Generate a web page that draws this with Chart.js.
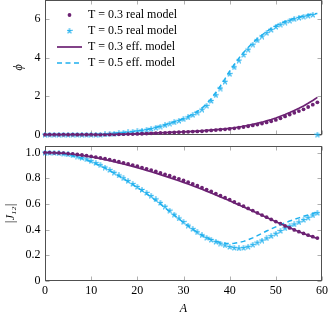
<!DOCTYPE html>
<html><head><meta charset="utf-8">
<script src="https://cdn.jsdelivr.net/npm/chart.js@4/dist/chart.umd.min.js"></script>
<style>
html,body{margin:0;padding:0;background:#fff;}
#wrap{position:relative;width:333px;height:317px;overflow:hidden;background:#fff}
#c1{position:absolute;left:0;top:0;width:333px;height:140px}
#c2{position:absolute;left:0;top:140px;width:333px;height:177px}
</style></head><body>
<div id="wrap"><canvas id="c1" width="333" height="140"></canvas><canvas id="c2" width="333" height="177"></canvas></div>
<script>
// ---- data ----
const A = [0,1,2,3,4,5,6,7,8,9,10,11,12,13,14,15,16,17,18,19,20,21,22,23,24,25,26,27,28,29,30,31,32,33,34,35,36,37,38,39,40,41,42,43,44,45,46,47,48,49,50,51,52,53,54,55,56,57,58,59];
const seriesLabels = ['T = 0.3 real model','T = 0.5 real model','T = 0.3 eff. model','T = 0.5 eff. model'];

const phiReal03 = [0,0,0,0,0,0,0,0,0,0,0,0,0,0.005,0.01,0.015,0.02,0.025,0.03,0.035,0.04,0.05,0.06,0.07,0.08,0.09,0.10,0.11,0.12,0.13,0.14,0.15,0.16,0.17,0.18,0.20,0.22,0.24,0.26,0.28,0.30,0.33,0.36,0.40,0.44,0.48,0.53,0.58,0.64,0.70,0.77,0.85,0.95,1.05,1.14,1.23,1.32,1.44,1.56,1.68];
const phiReal05 = [0,0,0,0,0,0,0,0,0,0,0,0,0,0.02,0.04,0.06,0.08,0.10,0.12,0.15,0.18,0.21,0.25,0.30,0.36,0.42,0.49,0.57,0.64,0.72,0.80,0.90,1.02,1.15,1.30,1.50,1.75,2.05,2.40,2.75,3.15,3.50,3.85,4.15,4.42,4.68,4.90,5.10,5.28,5.45,5.60,5.72,5.83,5.92,6.00,6.07,6.13,6.18,6.23,0];
const phiEff03 = [0,0,0,0,0,0,0,0,0,0,0,0,0.005,0.01,0.015,0.02,0.025,0.03,0.035,0.04,0.05,0.06,0.07,0.08,0.09,0.10,0.11,0.12,0.13,0.14,0.15,0.16,0.17,0.185,0.20,0.22,0.24,0.26,0.28,0.30,0.33,0.36,0.40,0.44,0.49,0.54,0.59,0.65,0.72,0.79,0.87,0.96,1.05,1.15,1.26,1.37,1.49,1.63,1.78,1.94];
const phiEff05 = [0,0,0,0,0,0,0,0,0,0,0,0.01,0.02,0.03,0.05,0.07,0.09,0.11,0.13,0.16,0.19,0.23,0.27,0.32,0.38,0.45,0.52,0.60,0.68,0.76,0.84,0.95,1.07,1.21,1.38,1.60,1.87,2.19,2.54,2.91,3.30,3.65,3.98,4.27,4.53,4.78,4.99,5.18,5.36,5.52,5.66,5.78,5.88,5.97,6.05,6.12,6.18,6.23,6.27,6.30];

const jReal03 = [1.000,1.000,0.999,0.998,0.996,0.993,0.990,0.986,0.982,0.977,0.972,0.966,0.960,0.953,0.946,0.938,0.930,0.921,0.912,0.903,0.894,0.884,0.874,0.864,0.853,0.842,0.831,0.820,0.808,0.796,0.783,0.770,0.756,0.742,0.727,0.712,0.697,0.681,0.665,0.649,0.633,0.616,0.599,0.582,0.565,0.548,0.530,0.513,0.496,0.479,0.462,0.445,0.428,0.412,0.397,0.383,0.369,0.356,0.344,0.333];
const jReal05 = [1.000,0.999,0.998,0.995,0.991,0.986,0.979,0.970,0.960,0.948,0.934,0.919,0.902,0.884,0.864,0.843,0.822,0.800,0.778,0.755,0.732,0.709,0.686,0.661,0.635,0.608,0.578,0.547,0.516,0.486,0.458,0.430,0.403,0.378,0.355,0.335,0.318,0.304,0.290,0.276,0.264,0.256,0.253,0.256,0.265,0.280,0.297,0.314,0.331,0.348,0.367,0.388,0.409,0.425,0.440,0.456,0.474,0.492,0.510,0.528];
const jEff03 = [1.000,1.000,0.999,0.997,0.995,0.992,0.988,0.984,0.979,0.973,0.967,0.961,0.954,0.946,0.938,0.930,0.921,0.912,0.903,0.893,0.883,0.873,0.862,0.851,0.840,0.829,0.817,0.805,0.793,0.781,0.768,0.755,0.742,0.728,0.714,0.700,0.685,0.670,0.655,0.640,0.624,0.608,0.592,0.576,0.560,0.544,0.527,0.511,0.494,0.478,0.461,0.445,0.429,0.413,0.398,0.383,0.369,0.355,0.342,0.330];
const jEff05 = [1.000,0.999,0.997,0.994,0.989,0.983,0.975,0.966,0.955,0.943,0.929,0.914,0.897,0.879,0.860,0.840,0.819,0.797,0.775,0.752,0.728,0.704,0.679,0.653,0.626,0.598,0.569,0.540,0.511,0.483,0.455,0.428,0.402,0.378,0.356,0.337,0.321,0.308,0.298,0.292,0.290,0.292,0.298,0.307,0.320,0.335,0.352,0.370,0.388,0.405,0.421,0.437,0.452,0.466,0.479,0.491,0.503,0.514,0.525,0.535];

const xTicks = [0,10,20,30,40,50,60];
const xTickLabels = ['0','10','20','30','40','50','60'];
const yTicksTop = [0,2,4,6];
const yTickLabelsTop = ['0','2','4','6'];
const yTicksBottom = [0,0.2,0.4,0.6,0.8,1.0];
const yTickLabelsBottom = ['0','0.2','0.4','0.6','0.8','1.0'];

// ---- styles ----
const PURPLE = '#6c2273';
const BLUE = '#1fb0ee';
const FONT = "'Liberation Serif','DejaVu Serif',serif";
Chart.defaults.font.family = FONT;
Chart.defaults.font.size = 12;
Chart.defaults.color = '#000';

function mkCanvas(w,h){const c=document.createElement('canvas');c.width=w;c.height=h;return c;}
function starImg(color){
  const c=mkCanvas(6,6), g=c.getContext('2d');
  g.strokeStyle=color; g.lineWidth=1.2; g.lineCap='round'; g.beginPath();
  for(let k=0;k<5;k++){const a=-Math.PI/2+k*2*Math.PI/5; g.moveTo(3,3); g.lineTo(3+2.4*Math.cos(a),3+2.4*Math.sin(a));}
  g.stroke(); return c;
}
const STAR = starImg(BLUE);
function iconDot(){const c=mkCanvas(25,10),g=c.getContext('2d');g.fillStyle=PURPLE;g.beginPath();g.arc(12.5,5,1.9,0,Math.PI*2);g.fill();return c;}
function iconStar(){const c=mkCanvas(25,10),g=c.getContext('2d');g.drawImage(STAR,9.5,2);return c;}
function iconLine(color,dash,w){const c=mkCanvas(25,10),g=c.getContext('2d');g.strokeStyle=color;g.lineWidth=w;g.setLineDash(dash);g.beginPath();g.moveTo(0,5);g.lineTo(25,5);g.stroke();return c;}
const legendIcons = [iconDot(), iconStar(), iconLine(PURPLE,[],1.7), iconLine(BLUE,[5,3.5],1.5)];

function pts(arr){return A.map((a,i)=>({x:a,y:arr[i]}));}
function datasets(r03,r05,e03,e05){
  return [
    {label:seriesLabels[0],data:pts(r03),showLine:false,pointStyle:'circle',pointRadius:1.9,pointBackgroundColor:PURPLE,pointBorderWidth:0,borderColor:PURPLE,backgroundColor:PURPLE,order:1,clip:false},
    {label:seriesLabels[1],data:pts(r05),showLine:false,pointStyle:STAR,pointRadius:3,pointBorderWidth:0,borderColor:BLUE,backgroundColor:BLUE,order:1,clip:false},
    {label:seriesLabels[2],data:pts(e03),borderColor:PURPLE,borderWidth:1.7,pointRadius:0,fill:false,order:0,clip:false},
    {label:seriesLabels[3],data:pts(e05),borderColor:BLUE,borderWidth:1.5,borderDash:[5,3.5],pointRadius:0,fill:false,order:0,clip:false}
  ];
}

const boxPlugin = {
  id:'boxTicks',
  beforeDatasetsDraw(chart,args,opts){
    const {ctx,chartArea:a,scales}=chart;
    const L=Math.round(a.left)+0.5,R=Math.round(a.right)-0.5,T=Math.round(a.top)+0.5,B=Math.round(a.bottom)-0.5;
    ctx.save();
    ctx.strokeStyle='#b0b0b0';ctx.lineWidth=1;ctx.beginPath();
    opts.xTicks.forEach(v=>{const p=Math.round(scales.x.getPixelForValue(v))+0.5;ctx.moveTo(p,B);ctx.lineTo(p,B-4);ctx.moveTo(p,T);ctx.lineTo(p,T+4);});
    opts.yTicks.forEach(v=>{const p=Math.round(scales.y.getPixelForValue(v))+0.5;ctx.moveTo(L,p);ctx.lineTo(L+4,p);ctx.moveTo(R,p);ctx.lineTo(R-4,p);});
    ctx.stroke();
    ctx.strokeStyle='#505050';ctx.strokeRect(L,T,R-L,B-T);
    ctx.restore();
  }
};
const legendShift = {id:'legendShift',afterLayout(chart){ if(chart.legend && chart.options.plugins.legend.display){chart.legend.left+=8;chart.legend.top+=5;} }};

function commonScales(yTicks,yLabels,ymin,ymax,showX,yTitle,yTitlePad){
  return {
    x:{type:'linear',min:0,max:60,
      afterBuildTicks:s=>{s.ticks=xTicks.map(v=>({value:v}));},
      ticks:{display:showX,padding:3,maxRotation:0,autoSkip:false,callback:(v,i)=>xTickLabels[i]},
      grid:{display:false,drawTicks:false},border:{display:false},
      title:{display:showX,text:'A',font:{style:'italic',size:12,family:FONT},padding:{top:0,bottom:1}},
      afterFit:s=>{s.height=showX?36.3:5.3;s.paddingLeft=0;s.paddingRight=0;}},
    y:{type:'linear',min:ymin,max:ymax,
      afterBuildTicks:s=>{s.ticks=yTicks.map(v=>({value:v}));},
      ticks:{padding:4.5,autoSkip:false,callback:(v,i)=>yLabels[i]},
      grid:{display:false,drawTicks:false},border:{display:false},
      title:{display:true,text:yTitle,font:{style:'italic',size:12,family:FONT},padding:{top:yTitlePad,bottom:0}},
      afterFit:s=>{s.width=45;s.paddingTop=0;s.paddingBottom=0;}}
  };
}

const legendOpts = {
  display:true,position:'chartArea',align:'start',
  labels:{usePointStyle:true,pointStyleWidth:25,boxWidth:25,boxHeight:10,padding:4,color:'#000',font:{size:12,family:FONT},
    generateLabels(chart){
      const items=Chart.defaults.plugins.legend.labels.generateLabels(chart);
      items.sort((a,b)=>a.datasetIndex-b.datasetIndex);
      items.forEach(it=>{it.pointStyle=legendIcons[it.datasetIndex];it.fontColor='#000';});
      return items;
    }}
};

new Chart(document.getElementById('c1'),{
  type:'line',
  data:{datasets:datasets(phiReal03,phiReal05,phiEff03,phiEff05)},
  options:{responsive:false,animation:false,
    layout:{autoPadding:false,padding:{left:0,right:11,top:0,bottom:0}},
    scales:commonScales(yTicksTop,yTickLabelsTop,0,7,false,'ϕ',11.3),
    plugins:{legend:legendOpts,tooltip:{enabled:false},boxTicks:{xTicks:xTicks,yTicks:yTicksTop}}},
  plugins:[boxPlugin,legendShift]
});

new Chart(document.getElementById('c2'),{
  type:'line',
  data:{datasets:datasets(jReal03,jReal05,jEff03,jEff05)},
  options:{responsive:false,animation:false,
    layout:{autoPadding:false,padding:{left:0,right:11,top:6.3,bottom:0}},
    scales:commonScales(yTicksBottom,yTickLabelsBottom,0,1.05,true,'|J₁₂|',4),
    plugins:{legend:{display:false},tooltip:{enabled:false},boxTicks:{xTicks:xTicks,yTicks:yTicksBottom}}},
  plugins:[boxPlugin,legendShift]
});
</script>
</body></html>
